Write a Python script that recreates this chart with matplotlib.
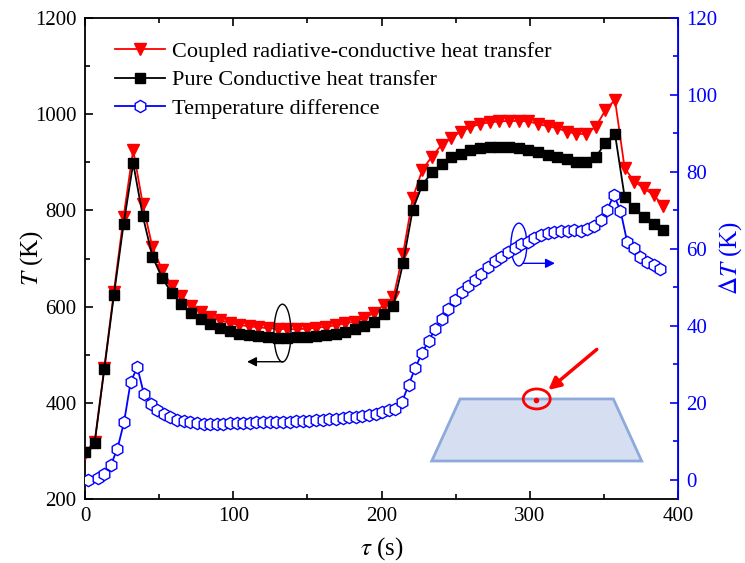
import numpy as np
import matplotlib
matplotlib.use("Agg")
import matplotlib.pyplot as plt
from matplotlib.patches import Ellipse, Polygon

plt.rcParams['font.family'] = ['Liberation Serif', 'DejaVu Serif']
plt.rcParams['mathtext.fontset'] = 'stix'

# ---------------- data ----------------
t_T = np.arange(61) * 6.5
T_coupled = [296, 318, 472, 631, 786, 926, 813, 723, 677, 643,
             621, 602, 589, 579, 572, 566, 562, 559, 557, 555,
             554, 553, 553, 554, 556, 558, 561, 565, 569, 576,
             587, 603, 619, 709, 825, 884, 912, 936, 950, 964,
             973, 980, 983, 985, 986, 986, 985, 980, 975, 971,
             964, 959, 959, 974, 1008, 1030, 888, 860, 846, 832,
             810]
T_pure = [298, 316, 470, 624, 771, 898, 788, 704, 660, 628,
          605, 586, 574, 563, 556, 550, 544, 541, 539, 537,
          535, 535, 536, 537, 539, 541, 544, 548, 553, 560,
          569, 584, 602, 690, 801, 853, 879, 896, 910, 918,
          926, 929, 931, 931, 931, 929, 926, 921, 915, 912,
          906, 900, 900, 910, 941, 959, 828, 804, 787, 771,
          759]
t_dT = np.concatenate([[2.0], np.linspace(8.5, 388, 86)])
dT = [0.0, 0.4, 1.6, 3.8, 8.1, 15.0, 25.5, 29.2, 22.3, 19.7,
      18.2, 17.0, 16.2, 15.6, 15.2, 14.9, 14.7, 14.6, 14.6, 14.6,
      14.6, 14.7, 14.7, 14.8, 14.8, 14.9, 14.9, 15.0, 15.0, 15.1,
      15.1, 15.2, 15.3, 15.4, 15.5, 15.6, 15.7, 15.9, 16.0, 16.2,
      16.4, 16.6, 16.9, 17.2, 17.6, 18.0, 18.5, 20.3, 24.7, 29.1,
      32.9, 36.1, 39.1, 41.9, 44.4, 46.7, 48.7, 50.4, 52.0, 53.6,
      55.3, 56.8, 57.9, 59.2, 60.3, 61.2, 61.9, 62.7, 63.5, 64.0,
      64.4, 64.6, 64.7, 64.8, 64.7, 65.1, 66.0, 67.4, 70.2, 74.0,
      69.9, 61.9, 60.2, 58.0, 56.7, 55.8, 54.7]

labels = ['Coupled radiative-conductive heat transfer',
          'Pure Conductive heat transfer',
          'Temperature difference']

RED = '#ff0000'
BLUE = '#0000ff'

fig = plt.figure(figsize=(7.45, 5.63), dpi=100)
ax = fig.add_axes([85/745, 1-499/563, (678-85)/745, (499-18)/563])
ax2 = ax.twinx()

l1, = ax.plot(t_T, T_coupled, '-', color=RED, lw=1.3, marker='v', ms=9,
              mfc=RED, mec=RED, zorder=3)
l2, = ax.plot(t_T, T_pure, '-', color='black', lw=1.3, marker='s', ms=7.3,
              mfc='black', mec='black', zorder=4)
l3, = ax2.plot(t_dT, dT, '-', color=BLUE, lw=1.3, marker='h', ms=8.8,
               mfc='white', mec=BLUE, mew=1.0, zorder=3)

ax.set_xlim(0, 400)
ax.set_ylim(200, 1200)
ax2.set_ylim(-5, 120)

ax.set_xticks([0, 100, 200, 300, 400])
ax.set_xticks([50, 150, 250, 350], minor=True)
ax.set_yticks([200, 400, 600, 800, 1000, 1200])
ax.set_yticks([300, 500, 700, 900, 1100], minor=True)
ax2.set_yticks([0, 20, 40, 60, 80, 100, 120])
ax2.set_yticks([10, 30, 50, 70, 90, 110], minor=True)

ax.tick_params(which='both', direction='in', top=True, right=False,
               labelsize=15, width=1.2)
ax.tick_params(which='major', length=6, pad=6)
ax.tick_params(which='minor', length=3.5)
ax2.tick_params(which='both', direction='in', colors=BLUE,
                labelsize=15, width=1.2)
ax2.tick_params(which='major', length=6, pad=6)
ax2.tick_params(which='minor', length=3.5)
for s in ['left', 'bottom', 'top']:
    ax.spines[s].set_linewidth(1.3)
ax2.spines['right'].set_color(BLUE)
ax2.spines['right'].set_linewidth(1.3)
for s in ['left', 'bottom', 'top']:
    ax2.spines[s].set_visible(False)

ax.set_xlabel(r'$\tau$ (s)', fontsize=18, labelpad=6)
ax.set_ylabel(r'$T$ (K)', fontsize=18, labelpad=-7)
ax2.set_ylabel(r'$\Delta T$ (K)', fontsize=18, color=BLUE, labelpad=0)

leg = ax.legend([l1, l2, l3], labels, loc='upper left',
                bbox_to_anchor=(0.05, 0.951), frameon=False, fontsize=16,
                handlelength=2.25, handletextpad=0.32, labelspacing=0.35,
                borderaxespad=0.0, borderpad=0.0)

# annotations (data coordinates on the left axis)
ax.add_patch(Ellipse((133.2, 545), 11.5, 120, fill=False, ec='black', lw=1.0, zorder=6))
ax.annotate('', xy=(109.3, 485.4), xytext=(133.6, 485.4),
            arrowprops=dict(arrowstyle='-|>', color='black', lw=1.0,
                            mutation_scale=14, shrinkA=0, shrinkB=0))
ax.add_patch(Ellipse((292.7, 729), 10.8, 89, fill=False, ec=BLUE, lw=1.0, zorder=6))
ax.annotate('', xy=(317, 690), xytext=(295.4, 690),
            arrowprops=dict(arrowstyle='-|>', color=BLUE, lw=1.0,
                            mutation_scale=14, shrinkA=0, shrinkB=0))

trap = Polygon([(253, 408), (356.4, 408), (375.5, 279), (233.9, 279)],
               closed=True, fc='#d5dff1', ec='#8eaadb', lw=2, zorder=2)
ax.add_patch(trap)
ax.add_patch(Ellipse((304.7, 408), 18.2, 41.6, fill=False, ec=RED, lw=2, zorder=6))
ax.plot([304.2], [406], 'o', color=RED, ms=3, zorder=7)
ax.annotate('', xy=(312.5, 426.6), xytext=(345.2, 511),
            arrowprops=dict(arrowstyle='-|>', color=RED, lw=2.5,
                            mutation_scale=18, shrinkA=0, shrinkB=0))

fig.savefig('out.png', dpi=100)
